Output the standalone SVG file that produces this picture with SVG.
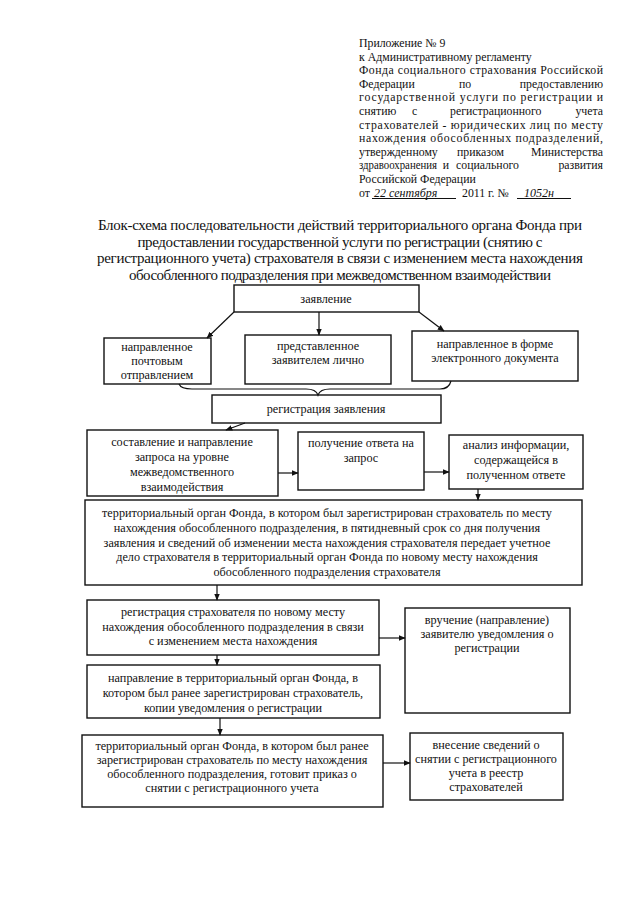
<svg xmlns="http://www.w3.org/2000/svg" width="640" height="905" viewBox="0 0 640 905">
<defs>
<style>
text{font-family:"Liberation Serif","Times New Roman",serif;fill:#111}
.h{font-size:11.8px}
.t{font-size:15px;text-anchor:middle}
.b{font-size:12.2px;text-anchor:middle}
.hw{font-family:"Liberation Serif",serif;font-style:italic;font-size:12px}
rect{fill:#fff;stroke:#111;stroke-width:1.4}
.c line,.c path{stroke:#111;stroke-width:1.2;fill:none}
</style>
<marker id="a" viewBox="0 0 10 10" refX="9" refY="5" markerWidth="7" markerHeight="7" orient="auto" markerUnits="userSpaceOnUse">
<path d="M0,1 L10,5 L0,9 Z" fill="#111"/>
</marker>
</defs>
<rect x="0" y="0" width="640" height="905" style="fill:#fff;stroke:none"/>

<g id="header">
<text class="h" x="359" y="47">Приложение № 9</text>
<text class="h" x="359" y="60.6">к Административному регламенту</text>
<text class="h" x="359" y="74.2" textLength="244">Фонда социального страхования Российской</text>
<text class="h" y="87.8"><tspan x="359">Федерации</tspan><tspan x="459">по</tspan><tspan x="603" text-anchor="end">предоставлению</tspan></text>
<text class="h" x="359" y="101.4" textLength="244">государственной услуги по регистрации и</text>
<text class="h" y="115"><tspan x="359">снятию</tspan><tspan x="412">с</tspan><tspan x="450">регистрационного</tspan><tspan x="603" text-anchor="end">учета</tspan></text>
<text class="h" x="359" y="128.6" textLength="244">страхователей - юридических лиц по месту</text>
<text class="h" x="359" y="142.2" textLength="244">нахождения обособленных подразделений,</text>
<text class="h" y="155.8"><tspan x="359">утвержденному</tspan><tspan x="457">приказом</tspan><tspan x="603" text-anchor="end">Министерства</tspan></text>
<text class="h" x="359" y="169.4" textLength="78" lengthAdjust="spacingAndGlyphs">здравоохранения</text>
<text class="h" x="446" y="169.4" text-anchor="middle">и</text>
<text class="h" x="456" y="169.4">социального</text>
<text class="h" x="603" y="169.4" text-anchor="end">развития</text>
<text class="h" x="359" y="183">Российской Федерации</text>
<text class="h" x="359" y="196.6">от</text>
<text class="hw" x="374" y="196.6">22 сентября</text>
<line x1="372" y1="198.5" x2="456" y2="198.5" stroke="#111" stroke-width="1"/>
<text class="h" x="462" y="196.6">2011 г. №</text>
<text class="hw" x="524" y="196.6">1052н</text>
<line x1="517" y1="198.5" x2="571" y2="198.5" stroke="#111" stroke-width="1"/>
</g>

<g id="title">
<text class="t" x="340" y="230" textLength="484">Блок-схема последовательности действий территориального органа Фонда при</text>
<text class="t" x="340" y="247" textLength="405">предоставлении государственной услуги по регистрации (снятию с</text>
<text class="t" x="340" y="263" textLength="486">регистрационного учета) страхователя в связи с изменением места нахождения</text>
<text class="t" x="340" y="280" textLength="422">обособленного подразделения при межведомственном взаимодействии</text>
</g>

<g id="n1"><rect x="234" y="285" width="185" height="27"/><text class="b" x="326" y="303">заявление</text></g>
<g id="n2"><rect x="104" y="338" width="107" height="46"/>
<text class="b" x="157" y="351">направленное</text><text class="b" x="157" y="365">почтовым</text><text class="b" x="157" y="379">отправлением</text></g>
<g id="n3"><rect x="245" y="335" width="146" height="49"/>
<text class="b" x="318" y="350">представленное</text><text class="b" x="318" y="364">заявителем  лично</text></g>
<g id="n4"><rect x="412" y="331" width="166" height="50"/>
<text class="b" x="495" y="348">направленное в форме</text><text class="b" x="495" y="362">электронного документа</text></g>
<g id="n5"><rect x="212" y="395" width="229" height="28"/><text class="b" x="326" y="413">регистрация заявления</text></g>
<g id="n6"><rect x="87" y="430" width="191" height="66"/>
<text class="b" x="182" y="446">составление и направление</text><text class="b" x="182" y="461">запроса на уровне</text><text class="b" x="182" y="476">межведомственного</text><text class="b" x="182" y="491">взаимодействия</text></g>
<g id="n7"><rect x="298" y="432" width="126" height="58"/>
<text class="b" x="361" y="447">получение ответа на</text><text class="b" x="361" y="462">запрос</text></g>
<g id="n8"><rect x="449" y="435" width="134" height="54"/>
<text class="b" x="516" y="449">анализ информации,</text><text class="b" x="516" y="464">содержащейся в</text><text class="b" x="516" y="479">полученном ответе</text></g>
<g id="n9"><rect x="85" y="500" width="497" height="85"/>
<text class="b" x="327" y="517">территориальный орган Фонда, в котором был зарегистрирован страхователь по месту</text>
<text class="b" x="327" y="532">нахождения обособленного подразделения, в пятидневный срок со дня получения</text>
<text class="b" x="327" y="547">заявления и сведений об изменении места нахождения страхователя передает учетное</text>
<text class="b" x="327" y="561">дело страхователя в территориальный орган Фонда по новому месту нахождения</text>
<text class="b" x="327" y="576">обособленного подразделения  страхователя</text></g>
<g id="n10"><rect x="87" y="600" width="292" height="55"/>
<text class="b" x="233" y="616">регистрация страхователя по новому месту</text><text class="b" x="233" y="631">нахождения обособленного подразделения в связи</text><text class="b" x="233" y="645">с изменением места нахождения</text></g>
<g id="n11"><rect x="405" y="608" width="165" height="105"/>
<text class="b" x="487" y="624">вручение (направление)</text><text class="b" x="487" y="638">заявителю уведомления о</text><text class="b" x="487" y="652">регистрации</text></g>
<g id="n12"><rect x="87" y="665" width="293" height="53"/>
<text class="b" x="233" y="682">направление в территориальный орган Фонда, в</text><text class="b" x="233" y="697">котором был ранее зарегистрирован страхователь,</text><text class="b" x="233" y="712">копии уведомления о регистрации</text></g>
<g id="n13"><rect x="82" y="735" width="301" height="72"/>
<text class="b" x="232" y="750">территориальный орган Фонда, в котором был ранее</text><text class="b" x="232" y="764">зарегистрирован страхователь по месту нахождения</text><text class="b" x="232" y="778">обособленного подразделения, готовит приказ о</text><text class="b" x="232" y="792">снятии с регистрационного учета</text></g>
<g id="n14"><rect x="410" y="733" width="153" height="67"/>
<text class="b" x="486" y="749">внесение сведений о</text><text class="b" x="486" y="763">снятии с регистрационного</text><text class="b" x="486" y="777">учета в реестр</text><text class="b" x="486" y="791">страхователей</text></g>

<g id="connectors" class="c">
<line x1="234" y1="312" x2="207" y2="338" marker-end="url(#a)"/>
<line x1="319" y1="312" x2="319" y2="335" marker-end="url(#a)"/>
<line x1="419" y1="312" x2="444" y2="331" marker-end="url(#a)"/>
<path d="M179,384 Q181,389 192,389 L306,389 Q316,389 318,395 Q320,389 330,389 L440,389 Q449,389 451,381"/>
<line x1="245" y1="423" x2="226" y2="430" marker-end="url(#a)"/>
<line x1="278" y1="473" x2="298" y2="473" marker-end="url(#a)"/>
<line x1="424" y1="472" x2="449" y2="472" marker-end="url(#a)"/>
<line x1="478" y1="489" x2="478" y2="500" marker-end="url(#a)"/>
<line x1="217" y1="585" x2="217" y2="600" marker-end="url(#a)"/>
<line x1="217" y1="655" x2="217" y2="665" marker-end="url(#a)"/>
<line x1="379" y1="638" x2="405" y2="638" marker-end="url(#a)"/>
<line x1="220" y1="718" x2="220" y2="735" marker-end="url(#a)"/>
<line x1="383" y1="763" x2="410" y2="763" marker-end="url(#a)"/>
</g>
</svg>
